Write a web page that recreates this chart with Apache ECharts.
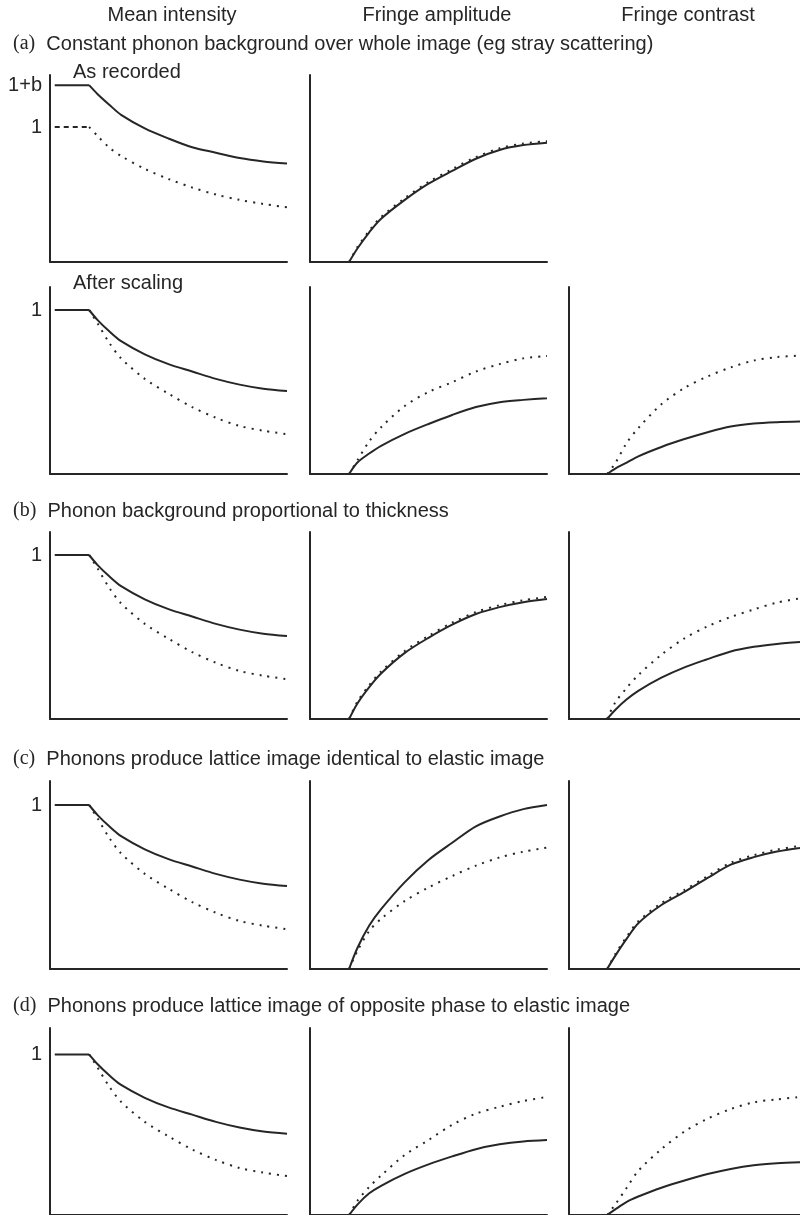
<!DOCTYPE html>
<html><head><meta charset="utf-8">
<script src="https://cdn.jsdelivr.net/npm/echarts@6/dist/echarts.min.js"></script>
<style>html,body{margin:0;padding:0;background:#fff}#c{width:800px;height:1215px}</style>
</head><body><div id="c"></div>
<script>
// ---------- text ----------
const columnHeaders = ['Mean intensity', 'Fringe amplitude', 'Fringe contrast'];
const sectionTags = ['(a)', '(b)', '(c)', '(d)'];
const sectionTitles = [
  'Constant phonon background over whole image (eg stray scattering)',
  'Phonon background proportional to thickness',
  'Phonons produce lattice image identical to elastic image',
  'Phonons produce lattice image of opposite phase to elastic image'
];
const subLabels = ['As recorded', 'After scaling'];

// ---------- tick labels (value, text) ----------
const tickValuesRecorded = [1.31, 1];
const tickTextRecorded = ['1+b', '1'];
const tickValuesScaled = [1];
const tickTextScaled = ['1'];

// ---------- thickness grid (x) ----------
const thickness = [0.165, 0.2, 0.25, 0.3, 0.4, 0.5, 0.6, 0.7, 0.8, 0.9, 1.0];
const flatStart = 0.02;

// ---------- (a) as recorded ----------
const recMeanSolid  = [1.31, 1.245, 1.165, 1.09, 0.99, 0.915, 0.85, 0.81, 0.77, 0.745, 0.73];
const recMeanDotted = [1.0, 0.935, 0.848, 0.785, 0.69, 0.615, 0.552, 0.50, 0.46, 0.43, 0.405];
const recAmpSolid   = [0, 0.1, 0.22, 0.32, 0.46, 0.58, 0.675, 0.765, 0.83, 0.866, 0.884];
const recAmpDotted  = [0, 0.11, 0.232, 0.333, 0.473, 0.593, 0.688, 0.777, 0.842, 0.878, 0.895];

// ---------- mean intensity after scaling (same in a, b, c, d) ----------
const scaledMeanSolid  = [1.0, 0.94, 0.87, 0.81, 0.73, 0.67, 0.625, 0.58, 0.545, 0.52, 0.506];
const scaledMeanDotted = [1.0, 0.92, 0.80, 0.705, 0.58, 0.49, 0.408, 0.343, 0.293, 0.264, 0.243];

// ---------- (a) after scaling ----------
const aAmpSolid  = [0, 0.07, 0.125, 0.172, 0.245, 0.305, 0.36, 0.408, 0.438, 0.452, 0.462];
const aAmpDotted = [0, 0.083, 0.2, 0.285, 0.415, 0.5, 0.56, 0.625, 0.67, 0.705, 0.72];
const aConSolid  = [0, 0.033, 0.07, 0.108, 0.165, 0.213, 0.255, 0.29, 0.308, 0.316, 0.32];
const aConDotted = [0, 0.065, 0.19, 0.28, 0.425, 0.525, 0.595, 0.65, 0.692, 0.713, 0.722];

// ---------- (b) ----------
const bAmpSolid  = [0, 0.095, 0.195, 0.278, 0.403, 0.495, 0.575, 0.64, 0.682, 0.712, 0.732];
const bAmpDotted = [0, 0.105, 0.207, 0.29, 0.415, 0.507, 0.587, 0.652, 0.694, 0.724, 0.744];
const bConSolid  = [0, 0.055, 0.12, 0.172, 0.252, 0.315, 0.365, 0.412, 0.44, 0.458, 0.47];
const bConDotted = [0, 0.1, 0.19, 0.268, 0.392, 0.492, 0.565, 0.622, 0.668, 0.71, 0.735];

// ---------- (c) ----------
const cAmpSolid  = [0, 0.128, 0.265, 0.365, 0.53, 0.665, 0.77, 0.87, 0.93, 0.975, 1.0];
const cAmpDotted = [0, 0.11, 0.232, 0.306, 0.415, 0.497, 0.567, 0.63, 0.68, 0.715, 0.74];
const cConSolid  = [0, 0.08, 0.185, 0.279, 0.39, 0.47, 0.555, 0.636, 0.682, 0.716, 0.738];
const cConDotted = [0, 0.09, 0.197, 0.291, 0.402, 0.482, 0.567, 0.648, 0.694, 0.728, 0.75];

// ---------- (d) ----------
const dAmpSolid  = [0, 0.065, 0.135, 0.182, 0.256, 0.315, 0.365, 0.41, 0.44, 0.458, 0.467];
const dAmpDotted = [0, 0.088, 0.175, 0.246, 0.374, 0.467, 0.562, 0.631, 0.674, 0.71, 0.735];
const dConSolid  = [0, 0.035, 0.082, 0.115, 0.17, 0.215, 0.255, 0.287, 0.31, 0.322, 0.328];
const dConDotted = [0, 0.065, 0.17, 0.275, 0.41, 0.52, 0.6, 0.66, 0.702, 0.72, 0.735];

// ---------- layout ----------
const INK = '#262626';
const SANS = 'Liberation Sans, Arial, sans-serif';
const SERIF = 'Liberation Serif, Times New Roman, serif';
const FS = 20;
const colLeft = [50, 310, 569];
const colWidth = 237;
const rowTop = [75, 287, 532, 781, 1028];
const rowHeight = [187, 187, 187, 188, 191];
const rowYMax = [187 / 135, 187 / 164, 187 / 164, 188 / 164, 191 / 164];

// panels: [row, col, solid, dotted, isMean, tickValues, tickTexts]
const panels = [
  [0, 0, recMeanSolid, recMeanDotted, true, tickValuesRecorded, tickTextRecorded],
  [0, 1, recAmpSolid, recAmpDotted, false],
  [1, 0, scaledMeanSolid, scaledMeanDotted, true, tickValuesScaled, tickTextScaled],
  [1, 1, aAmpSolid, aAmpDotted, false],
  [1, 2, aConSolid, aConDotted, false],
  [2, 0, scaledMeanSolid, scaledMeanDotted, true, tickValuesScaled, tickTextScaled],
  [2, 1, bAmpSolid, bAmpDotted, false],
  [2, 2, bConSolid, bConDotted, false],
  [3, 0, scaledMeanSolid, scaledMeanDotted, true, tickValuesScaled, tickTextScaled],
  [3, 1, cAmpSolid, cAmpDotted, false],
  [3, 2, cConSolid, cConDotted, false],
  [4, 0, scaledMeanSolid, scaledMeanDotted, true, tickValuesScaled, tickTextScaled],
  [4, 1, dAmpSolid, dAmpDotted, false],
  [4, 2, dConSolid, dConDotted, false]
];

const grid = [], xAxis = [], yAxis = [], series = [];
const pairs = arr => thickness.map((t, i) => [t, arr[i]]);
const solidStyle = { color: INK, width: 2, type: 'solid' };
const dotStyle = { color: INK, width: 2, type: [2, 6], cap: 'butt' };
const dashStyle = { color: INK, width: 2, type: [5, 4], cap: 'butt' };

panels.forEach((p, k) => {
  const [r, c, solid, dotted, isMean, tv, tt] = p;
  grid.push({ left: colLeft[c], top: rowTop[r], width: colWidth, height: rowHeight[r], containLabel: false });
  xAxis.push({
    gridIndex: k, type: 'value', min: 0, max: 1,
    axisLine: { show: true, onZero: false, lineStyle: { color: INK, width: 2 } },
    axisTick: { show: false }, axisLabel: { show: false }, splitLine: { show: false }
  });
  yAxis.push({
    gridIndex: k, type: 'value', min: 0, max: rowYMax[r],
    axisLine: { show: true, onZero: false, lineStyle: { color: INK, width: 2 } },
    axisTick: { show: false }, splitLine: { show: false },
    axisLabel: tv ? {
      show: true, customValues: tv, margin: 8, color: INK, fontSize: FS, fontFamily: SANS,
      formatter: v => { const i = tv.findIndex(x => Math.abs(x - v) < 1e-6); return i >= 0 ? tt[i] : ''; }
    } : { show: false }
  });
  const base = { type: 'line', xAxisIndex: k, yAxisIndex: k, symbol: 'none', silent: true, animation: false };
  if (isMean) {
    if (Math.abs(solid[0] - dotted[0]) > 1e-6) {
      series.push(Object.assign({}, base, { data: [[flatStart, dotted[0]], [thickness[0], dotted[0]]], lineStyle: dashStyle }));
    }
    series.push(Object.assign({}, base, { data: pairs(dotted), smooth: 0.3, lineStyle: dotStyle }));
    series.push(Object.assign({}, base, { data: [[flatStart, solid[0]], [thickness[0], solid[0]]], lineStyle: solidStyle }));
    series.push(Object.assign({}, base, { data: pairs(solid), smooth: 0.3, lineStyle: solidStyle }));
  } else {
    series.push(Object.assign({}, base, { data: pairs(dotted), smooth: 0.3, lineStyle: dotStyle }));
    series.push(Object.assign({}, base, { data: pairs(solid), smooth: 0.3, lineStyle: solidStyle }));
  }
});

// ---------- text graphics ----------
const headerX = [172, 437, 688];
const sectionY = [44, 511, 759, 1006];
const subLabelY = [72, 283];
const graphic = [];
columnHeaders.forEach((h, i) => graphic.push({
  type: 'text', x: headerX[i], y: 15,
  style: { text: h, fill: INK, font: FS + 'px ' + SANS, align: 'center', verticalAlign: 'middle' }
}));
sectionTitles.forEach((s, i) => graphic.push({
  type: 'text', x: 13, y: sectionY[i],
  style: {
    text: '{t|' + sectionTags[i] + '}  ' + s, fill: INK, font: FS + 'px ' + SANS,
    verticalAlign: 'middle',
    rich: { t: { fontFamily: SERIF, fontSize: 20, fill: INK, verticalAlign: 'middle' } }
  }
}));
subLabels.forEach((s, i) => graphic.push({
  type: 'text', x: 73, y: subLabelY[i],
  style: { text: s, fill: INK, font: FS + 'px ' + SANS, verticalAlign: 'middle' }
}));

const chart = echarts.init(document.getElementById('c'), null, { renderer: 'canvas' });
chart.setOption({ backgroundColor: '#fff', animation: false, grid, xAxis, yAxis, series, graphic });
</script>
</body></html>
